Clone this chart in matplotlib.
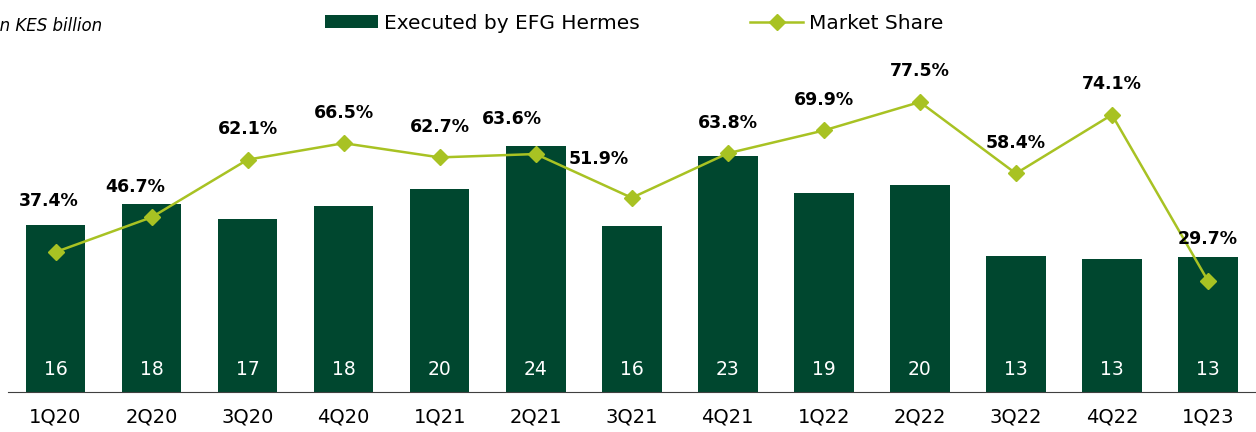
import numpy as np
import matplotlib.pyplot as plt

quarters = ["1Q20", "2Q20", "3Q20", "4Q20", "1Q21", "2Q21", "3Q21",
            "4Q21", "1Q22", "2Q22", "3Q22", "4Q22", "1Q23"]
executed = [16.2, 18.3, 16.8, 18.1, 19.7, 23.9, 16.1, 22.9, 19.3, 20.1, 13.2, 12.9, 13.1]
share = [37.4, 46.7, 62.1, 66.5, 62.7, 63.6, 51.9, 63.8, 69.9, 77.5, 58.4, 74.1, 29.7]

green = "#00472F"
lime = "#A8C223"
plt.rcParams['font.family'] = ['DejaVu Sans']

fig = plt.figure(figsize=(12.56, 4.32), dpi=100)
ax = fig.add_axes([0.006, 0.0926, 0.994, 0.815])
x = np.arange(len(quarters))

ax.bar(x, executed, width=0.62, color=green, label="Executed by EFG Hermes", zorder=2)
for xi, v in zip(x, executed):
    ax.text(xi, 2.2, f"{v:.0f}", color="white", ha="center", va="center", fontsize=13.5)

ax.set_xlim(-0.5, 12.5)
ax.set_ylim(0, 34.2)
ax.set_yticks([])
ax.set_xticks(x)
ax.set_xticklabels(quarters, fontsize=14)
ax.tick_params(axis="x", length=0, pad=11)
for s in ["top", "right", "left"]:
    ax.spines[s].set_visible(False)
ax.spines["bottom"].set_color("#404040")

ax2 = ax.twinx()
ax2.plot(x, share, color=lime, lw=1.8, marker="D", ms=8, label="Market Share", zorder=3)
# label nudges (points) where the reference moves them off the default spot
nudge = {0: (-5, 37), 1: (-12, 22), 5: (-17, 25), 6: (-24, 28), 12: (0, 30)}
for i, (xi, v) in enumerate(zip(x, share)):
    dx, dy = nudge.get(i, (0, 22))
    ax2.annotate(f"{v:.1f}%", (xi, v), xytext=(dx, dy), textcoords="offset points",
                 ha="center", va="center", fontsize=12.5, fontweight="bold")
ax2.set_ylim(0, 94.1)
ax2.set_yticks([])
for s in ["top", "right", "left", "bottom"]:
    ax2.spines[s].set_visible(False)

h1, l1 = ax.get_legend_handles_labels()
h2, l2 = ax2.get_legend_handles_labels()
fig.legend(h1 + h2, l1 + l2, loc="upper center", bbox_to_anchor=(0.505, 1.01), ncol=2,
           frameon=False, fontsize=14.5, handlelength=2.6, handleheight=0.6,
           columnspacing=5.5, handletextpad=0.3)

fig.text(-0.004, 0.94, "in KES billion", fontsize=12, style="italic", va="center")

fig.savefig("out.png", dpi=100)
